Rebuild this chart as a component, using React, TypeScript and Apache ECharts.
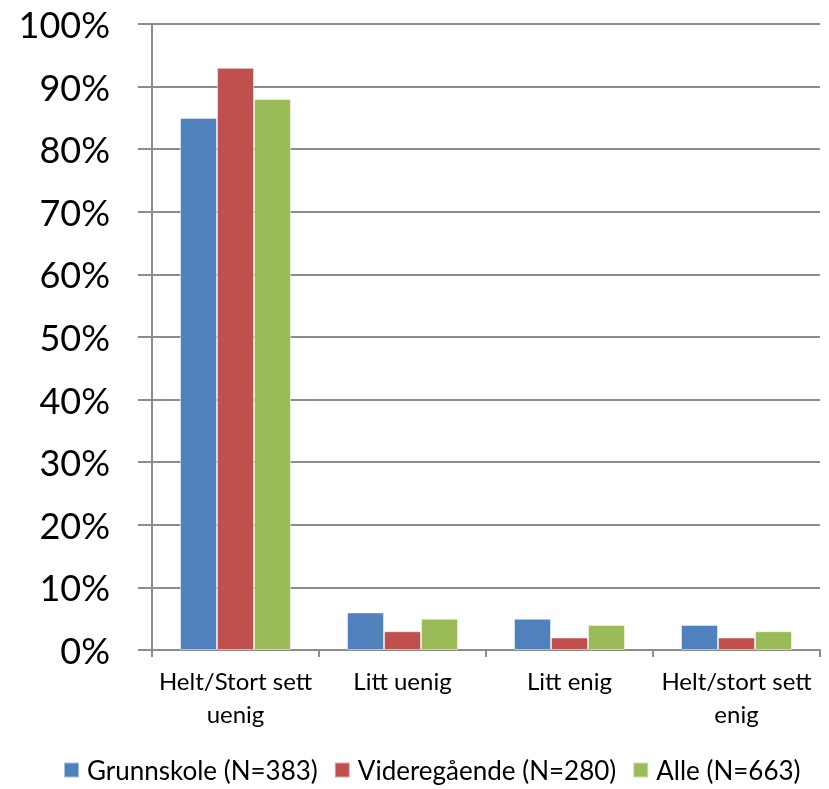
import React, { useEffect, useRef } from "react";
import * as echarts from "echarts";

const categories = ["Helt/Stort sett\nuenig", "Litt uenig", "Litt enig", "Helt/stort sett\nenig"];
const seriesNames = ["Grunnskole (N=383)", "Videregående (N=280)", "Alle (N=663)"];
const grunnskole = [85, 6, 5, 4];
const videregaende = [93, 3, 2, 2];
const alle = [88, 5, 4, 3];
const colors = ["#4F81BD", "#C0504D", "#9BBB59"];
const yTicks = [0, 10, 20, 30, 40, 50, 60, 70, 80, 90, 100];

export default function App() {
  const ref = useRef<HTMLDivElement>(null);
  useEffect(() => {
    if (!ref.current) return;
    const chart = echarts.init(ref.current, undefined, { renderer: "svg" });
    const font = "Lato, 'Open Sans', sans-serif";
    const values = [grunnskole, videregaende, alle];
    chart.setOption({
      animation: false,
      textStyle: { fontFamily: font },
      grid: { left: 152, right: 9, top: 24, bottom: 139, containLabel: false },
      legend: {
        data: seriesNames,
        bottom: 1,
        left: 58,
        itemWidth: 15,
        itemHeight: 15,
        itemGap: 16,
        icon: "rect",
        textStyle: { fontSize: 26, color: "#000", fontFamily: font, padding: [0, 0, 0, 3] },
      },
      xAxis: {
        type: "category",
        data: categories,
        axisLine: { lineStyle: { color: "#8C8C8C", width: 2 } },
        axisTick: { show: true, length: 7, lineStyle: { color: "#8C8C8C", width: 2 } },
        axisLabel: { fontSize: 24, color: "#000", lineHeight: 33, margin: 14, fontFamily: font, interval: 0 },
      },
      yAxis: {
        type: "value",
        min: 0,
        max: 100,
        interval: 10,
        axisLine: { show: true, lineStyle: { color: "#8C8C8C", width: 2 } },
        axisTick: { show: true, length: 14, lineStyle: { color: "#8C8C8C", width: 2 } },
        splitLine: { show: true, lineStyle: { color: "#8C8C8C", width: 2 } },
        axisLabel: {
          fontSize: 36,
          color: "#000",
          margin: 42,
          fontFamily: font,
          formatter: (v: number) => (yTicks.includes(v) ? v + "%" : ""),
        },
      },
      series: seriesNames.map((name, i) => ({
        name,
        type: "bar",
        data: values[i],
        barWidth: 37,
        barGap: "0%",
        itemStyle: { color: colors[i], borderColor: "rgba(255,255,255,0.5)", borderWidth: 1 },
      })),
    });
    return () => chart.dispose();
  }, []);
  return <div ref={ref} style={{ position: "fixed", left: 0, top: 0, width: 829, height: 789 }} />;
}
